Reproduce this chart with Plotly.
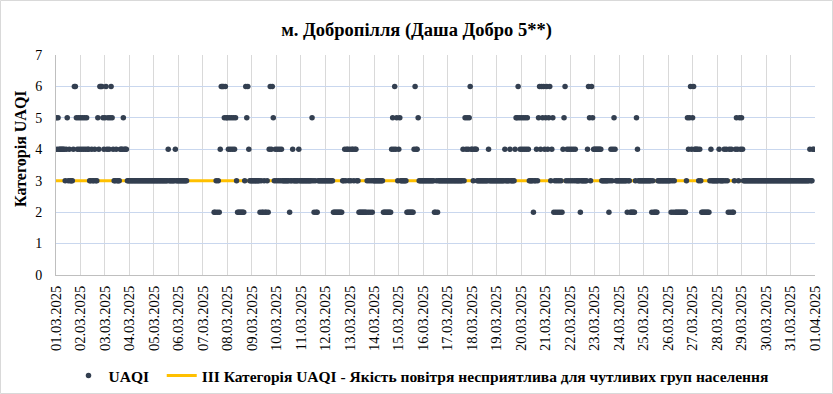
import plotly.graph_objects as go
import pandas as pd

title_text = "м. Добропілля (Даша Добро 5**)"
y_title = "Категорія UAQI"
series_name = "UAQI"
line_name = "ІІІ Категорія UAQI - Якість повітря несприятлива для чутливих груп населення"

day_labels = [
    "01.03.2025", "02.03.2025", "03.03.2025", "04.03.2025", "05.03.2025", "06.03.2025",
    "07.03.2025", "08.03.2025", "09.03.2025", "10.03.2025", "11.03.2025", "12.03.2025",
    "13.03.2025", "14.03.2025", "15.03.2025", "16.03.2025", "17.03.2025", "18.03.2025",
    "19.03.2025", "20.03.2025", "21.03.2025", "22.03.2025", "23.03.2025", "24.03.2025",
    "25.03.2025", "26.03.2025", "27.03.2025", "28.03.2025", "29.03.2025", "30.03.2025",
    "31.03.2025", "01.04.2025",
]

# hourly UAQI category, one 24-character string per day (00:00..23:00), '-' = no data
uaqi_days = [
    "545444444345343334665454",  # 01.03
    "545454544334334335466654",  # 02.03
    "564545654334333444544433",  # 03.03
    "333333333333333333333333",  # 04.03
    "333333333333334333333433",  # 05.03
    "333333333---------------",  # 06.03
    "-----------2232324666565",  # 07.03
    "545454545322222223656433",  # 08.03
    "333333332322322324646534",  # 09.03
    "343434333333323343333343",  # 10.03
    "333333333335323223333333",  # 11.03
    "333333332222222223343443",  # 12.03
    "434434433222222223232323",  # 13.03
    "333333333222222224546453",  # 14.03
    "453333332222222464453333",  # 15.03
    "333333333332232333333333",  # 16.03
    "333333333333333435454564",  # 17.03
    "434443333333333343333333",  # 18.03
    "333333334333343333455654",  # 19.03
    "545454543333233435646564",  # 20.03
    "564563452323232324563434",  # 21.03
    "343434333323333334653654",  # 22.03
    "444444433333332343454333",  # 23.03
    "333333332332222235433333",  # 24.03
    "333333332322223333333333",  # 25.03
    "333232322222222222354564",  # 26.03
    "564444343222222223433333",  # 27.03
    "334333343432424223454354",  # 28.03
    "543333333333333333333333",  # 29.03
    "333333333333333333333333",  # 30.03
    "333333333333333333343344",  # 31.03
]

threshold_level = 3

uaqi = [None if c == "-" else int(c) for day in uaqi_days for c in day]
times = pd.date_range("2025-03-01 00:00", periods=len(uaqi), freq="h")
threshold = [threshold_level] * len(times)
tick_dates = pd.to_datetime(day_labels, format="%d.%m.%Y")

SERIF = "Liberation Serif, Times New Roman, serif"

fig = go.Figure()
fig.add_trace(go.Scatter(
    x=times, y=threshold, mode="lines", name=line_name,
    line=dict(color="#FFC000", width=3), legendrank=2, hoverinfo="skip",
))
fig.add_trace(go.Scatter(
    x=times, y=uaqi, mode="markers", name=series_name + "\u00a0\u00a0",
    marker=dict(color="#333F50", size=5.5, line=dict(width=0)), legendrank=1,
))

L, R, T, B = 56, 18, 55, 119
W, H = 833, 394
pw, ph = W - L - R, H - T - B

fig.update_layout(
    width=W, height=H,
    margin=dict(l=L, r=R, t=T, b=B, autoexpand=False),
    paper_bgcolor="white", plot_bgcolor="white",
    title=dict(text="<b>" + title_text + "</b>", x=0.5, xanchor="center",
               y=(H - 30) / H, yanchor="middle", yref="container", automargin=False,
               font=dict(family=SERIF, size=18.5, color="#000000")),
    showlegend=True,
    legend=dict(orientation="h", xref="container", yref="container",
                x=421 / W, xanchor="center",
                y=(H - 376) / H, yanchor="middle",
                font=dict(family=SERIF, size=15.5, color="#000000", weight="bold"),
                bgcolor="rgba(0,0,0,0)", traceorder="normal", itemwidth=30),
    xaxis=dict(
        type="date", range=[tick_dates[0], tick_dates[-1]], automargin=False,
        tickmode="array", tickvals=tick_dates, ticktext=day_labels,
        tickangle=-90, tickfont=dict(family=SERIF, size=14.5, color="#000000"),
        showgrid=True, gridcolor="#D9D9D9", gridwidth=1,
        showline=True, linecolor="#BFBFBF", linewidth=1, mirror=False,
        ticks="", zeroline=False, ticklabelstandoff=4,
    ),
    yaxis=dict(
        range=[0, 7], dtick=1, tick0=0, automargin=False,
        tickfont=dict(family=SERIF, size=14, color="#000000"),
        showgrid=True, gridcolor="#C9D7EE", gridwidth=1,
        showline=True, linecolor="#BFBFBF", linewidth=1,
        ticks="", zeroline=False, ticklabelstandoff=10,
    ),
    annotations=[dict(
        text="<b>" + y_title + "</b>", textangle=-90, showarrow=False,
        xref="paper", yref="paper", x=(21 - L) / pw, y=(H - B - 149) / ph,
        xanchor="center", yanchor="middle",
        font=dict(family=SERIF, size=16, color="#000000"),
    )],
    shapes=[dict(
        type="rect", xref="paper", yref="paper", layer="below",
        x0=(0.5 - L) / pw, x1=(W - 0.5 - L) / pw,
        y0=(H - B - (H - 0.5)) / ph, y1=(H - B - 0.5) / ph,
        line=dict(color="#D9D9D9", width=1), fillcolor="rgba(0,0,0,0)",
    )],
)

fig.write_html(
    "out.html",
    config={"displayModeBar": False},
    post_script="document.body.style.margin='0';document.body.style.padding='0';",
)
